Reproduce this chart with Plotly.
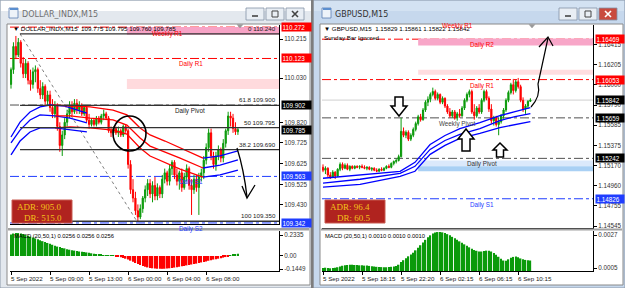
import plotly.graph_objects as go

# ---------------- DATA ----------------
# DOLLAR_INDX M15 (bar index 0..93)
dx_open = [110.00,110.07,110.18,110.14,110.20,110.10,110.05,110.10,110.02,110.00,
           110.06,110.07,109.98,109.95,109.99,109.92,109.95,109.89,109.86,109.90,
           109.80,109.71,109.76,109.82,109.86,109.90,109.87,109.91,109.88,109.90,
           109.86,109.89,109.83,109.81,109.83,109.81,109.84,109.82,109.85,109.86,
           109.84,109.78,109.77,109.79,109.77,109.78,109.76,109.80,109.78,109.62,
           109.50,109.46,109.40,109.37,109.41,109.46,109.50,109.53,109.48,109.52,
           109.47,109.51,109.48,109.55,109.58,109.54,109.60,109.63,109.57,109.54,
           109.58,109.51,109.56,109.60,109.52,109.50,109.55,109.51,109.56,109.58,
           109.64,109.70,109.77,109.66,109.62,109.66,109.69,109.65,109.72,109.78,
           109.85,109.84,109.79,109.775]
dx_high = [110.08,110.20,110.23,110.22,110.21,110.13,110.12,110.11,110.07,110.08,
           110.09,110.08,110.02,110.01,110.00,109.97,109.97,109.93,109.92,109.91,
           109.82,109.78,109.84,109.88,109.92,109.92,109.93,109.93,109.92,109.91,
           109.90,109.90,109.86,109.84,109.84,109.85,109.85,109.86,109.88,109.87,
           109.85,109.80,109.80,109.80,109.80,109.79,109.81,109.81,109.79,109.64,
           109.55,109.49,109.43,109.43,109.47,109.52,109.55,109.55,109.54,109.56,
           109.53,109.52,109.57,109.60,109.59,109.62,109.64,109.64,109.60,109.59,
           109.60,109.58,109.62,109.61,109.55,109.57,109.57,109.58,109.60,109.66,
           109.72,109.79,109.79,109.68,109.68,109.71,109.70,109.74,109.79,109.87,
           109.87,109.86,109.82,109.795]
dx_low = [109.98,110.05,110.12,110.13,110.08,110.03,110.03,110.00,109.97,109.98,
          110.01,109.96,109.93,109.93,109.90,109.90,109.87,109.84,109.84,109.78,
          109.68,109.66,109.74,109.80,109.84,109.85,109.86,109.86,109.86,109.85,
          109.85,109.82,109.79,109.80,109.80,109.80,109.81,109.81,109.83,109.83,
          109.77,109.75,109.75,109.76,109.75,109.75,109.75,109.77,109.60,109.48,
          109.44,109.38,109.35,109.36,109.39,109.44,109.47,109.46,109.44,109.45,
          109.45,109.46,109.46,109.53,109.52,109.52,109.57,109.55,109.52,109.50,
          109.49,109.50,109.54,109.50,109.38,109.48,109.49,109.38,109.54,109.55,
          109.62,109.68,109.64,109.60,109.59,109.64,109.63,109.63,109.70,109.76,
          109.80,109.77,109.76,109.760]
dx_close = [110.07,110.18,110.14,110.20,110.10,110.05,110.10,110.02,110.00,110.06,
            110.07,109.98,109.95,109.99,109.92,109.95,109.89,109.86,109.90,109.80,
            109.71,109.76,109.82,109.86,109.90,109.87,109.91,109.88,109.90,109.86,
            109.89,109.83,109.81,109.83,109.81,109.84,109.82,109.85,109.86,109.84,
            109.78,109.77,109.79,109.77,109.78,109.76,109.80,109.78,109.62,109.50,
            109.46,109.40,109.37,109.41,109.46,109.50,109.53,109.48,109.52,109.47,
            109.51,109.48,109.55,109.58,109.54,109.60,109.63,109.57,109.54,109.58,
            109.51,109.56,109.60,109.52,109.50,109.55,109.51,109.56,109.58,109.64,
            109.70,109.77,109.66,109.62,109.66,109.69,109.65,109.72,109.78,109.85,
            109.84,109.79,109.775,109.785]
dx_macd = [0.240,0.250,0.255,0.255,0.250,0.245,0.235,0.225,0.215,
           0.205,0.195,0.185,0.175,0.165,0.155,0.145,0.135,0.125,0.115,
           0.105,0.100,0.090,0.085,0.075,0.070,0.065,0.060,0.055,0.050,
           0.047,0.044,0.040,0.035,0.030,0.025,0.020,0.017,0.014,0.011,
           0.008,0.005,0.003,0.001,-0.003,-0.008,-0.015,-0.022,-0.030,-0.040,
           -0.052,-0.065,-0.078,-0.090,-0.100,-0.110,-0.120,-0.127,-0.133,-0.137,
           -0.140,-0.142,-0.143,-0.143,-0.142,-0.140,-0.137,-0.133,-0.129,-0.125,
           -0.120,-0.115,-0.110,-0.105,-0.100,-0.095,-0.090,-0.085,-0.078,-0.072,
           -0.066,-0.060,-0.053,-0.047,-0.040,-0.035,-0.030,-0.024,-0.018,-0.012,
           -0.006,0.003,0.012,0.020,0.0256]
# moving-average channel lines: (bar, price)
dx_blue1_up = [(0,109.750),(3.7,109.821),(7.8,109.869),(11.9,109.893),(16.0,109.902),(22.1,109.897),(31.1,109.864)]
dx_blue1_md = [(0,109.722),(3.7,109.783),(7.8,109.831),(11.9,109.855),(18.0,109.850),(24.2,109.840),(31.1,109.817)]
dx_blue1_lo = [(0,109.665),(3.7,109.731),(7.8,109.774),(11.9,109.793),(18.0,109.793),(24.2,109.783),(31.1,109.774)]
dx_red_up = [(17.2,109.902),(24.2,109.897),(32.4,109.893),(41.8,109.878),(47.5,109.855),(52.9,109.793),(57.0,109.760),(63.1,109.731),(69.3,109.698),(78.7,109.650)]
dx_red_md = [(18.0,109.850),(24.2,109.850),(32.4,109.840),(41.8,109.831),(47.5,109.807),(52.9,109.745),(57.0,109.707),(63.1,109.679),(69.3,109.650),(78.7,109.603)]
dx_red_lo = [(18.0,109.793),(24.2,109.798),(32.4,109.793),(41.8,109.783),(47.5,109.764),(52.9,109.698),(57.0,109.660),(63.1,109.631),(69.3,109.598),(78.7,109.560)]
dx_blue2_up = [(78.7,109.650),(85.7,109.660),(93,109.684)]
dx_blue2_md = [(78.7,109.603),(85.7,109.617),(93,109.641)]
dx_blue2_lo = [(78.7,109.560),(85.7,109.570),(93,109.593)]

dx_weekly_r1 = 110.272
dx_daily_r1 = 110.123
dx_daily_pivot = 109.902
dx_daily_s1 = 109.563
dx_daily_s2 = 109.342
dx_last = 109.785
dx_zone_top = [110.236, 109.978]
dx_zone_bot = [110.272, 110.025]
dx_zone_start = 47.5
dx_fib_pct = ["0", "61.8", "50", "38.2", "100"]
dx_fib_val = [110.240, 109.900, 109.795, 109.690, 109.350]
dx_fib_start = 3.7
dx_fib_trend = [(3.7, 110.240), (51.6, 109.350)]
dx_price_ticks = [110.215, 110.030, 109.820, 109.725, 109.625, 109.525, 109.430]
dx_macd_ticks = [0.2335, 0.0, -0.1449]
dx_macd_ticktext = ["0.2335", "0.00", "-0.1449"]
dx_time_idx = [0, 16, 32, 48, 64, 80]
dx_time_lbl = ["5 Sep 2022", "5 Sep 09:00", "5 Sep 13:00", "6 Sep 00:00", "6 Sep 04:00", "6 Sep 08:00"]

# GBPUSD M15 (bar index 0..85)
gb_open = [1.1515,1.1512,1.1514,1.1507,1.1505,1.1510,1.1506,1.1513,1.1518,1.1514,
           1.1517,1.1513,1.1516,1.1514,1.1516,1.1515,1.1516,1.1515,1.1514,1.1515,
           1.1513,1.1514,1.1512,1.1511,1.1513,1.1512,1.1514,1.1516,1.1515,1.1519,
           1.1521,1.1522,1.1526,1.1552,1.1548,1.1551,1.1544,1.1548,1.1554,1.1560,
           1.1567,1.1564,1.1574,1.1582,1.1585,1.1590,1.1593,1.1586,1.1590,1.1582,
           1.1586,1.1578,1.1572,1.1568,1.1572,1.1566,1.1570,1.1568,1.1576,1.1584,
           1.1590,1.1593,1.1572,1.1568,1.1576,1.1572,1.1584,1.1593,1.1586,1.1575,
           1.1563,1.1566,1.1559,1.1562,1.1568,1.1574,1.1584,1.1592,1.1600,1.1594,
           1.1603,1.1598,1.1584,1.1575,1.1578,1.15829]
gb_high = [1.1518,1.1516,1.1515,1.1510,1.1512,1.1511,1.1514,1.1520,1.1520,1.1519,
           1.1519,1.1517,1.1517,1.1517,1.1517,1.1517,1.1518,1.1517,1.1516,1.1516,
           1.1515,1.1515,1.1514,1.1514,1.1515,1.1515,1.1517,1.1518,1.1520,1.1522,
           1.1524,1.1528,1.1566,1.1556,1.1553,1.1553,1.1550,1.1556,1.1562,1.1569,
           1.1570,1.1576,1.1584,1.1588,1.1592,1.1597,1.1595,1.1592,1.1591,1.1588,
           1.1587,1.1580,1.1576,1.1574,1.1574,1.1572,1.1575,1.1578,1.1586,1.1592,
           1.1595,1.1595,1.1580,1.1578,1.1580,1.1586,1.1595,1.1595,1.1588,1.1580,
           1.1568,1.1568,1.1566,1.1570,1.1576,1.1586,1.1594,1.1602,1.1606,1.1605,
           1.1607,1.1600,1.1587,1.1580,1.1584,1.15861]
gb_low = [1.1510,1.1508,1.1505,1.1503,1.1504,1.1503,1.1505,1.1511,1.1512,1.1513,
          1.1512,1.1511,1.1513,1.1513,1.1514,1.1513,1.1514,1.1513,1.1512,1.1512,
          1.1511,1.1511,1.1510,1.1510,1.1511,1.1511,1.1513,1.1514,1.1514,1.1517,
          1.1519,1.1521,1.1525,1.1546,1.1545,1.1542,1.1542,1.1546,1.1552,1.1558,
          1.1562,1.1563,1.1572,1.1578,1.1582,1.1588,1.1584,1.1584,1.1580,1.1580,
          1.1576,1.1570,1.1566,1.1566,1.1564,1.1563,1.1566,1.1567,1.1574,1.1582,
          1.1587,1.1570,1.1564,1.1566,1.1570,1.1570,1.1582,1.1584,1.1572,1.1560,
          1.1558,1.1557,1.1548,1.1560,1.1565,1.1572,1.1582,1.1590,1.1590,1.1592,
          1.1596,1.1582,1.1572,1.1570,1.1575,1.15822]
gb_close = [1.1512,1.1514,1.1507,1.1505,1.1510,1.1506,1.1513,1.1518,1.1514,1.1517,
            1.1513,1.1516,1.1514,1.1516,1.1515,1.1516,1.1515,1.1514,1.1515,1.1513,
            1.1514,1.1512,1.1511,1.1513,1.1512,1.1514,1.1516,1.1515,1.1519,1.1521,
            1.1522,1.1526,1.1552,1.1548,1.1551,1.1544,1.1548,1.1554,1.1560,1.1567,
            1.1564,1.1574,1.1582,1.1585,1.1590,1.1593,1.1586,1.1590,1.1582,1.1586,
            1.1578,1.1572,1.1568,1.1572,1.1566,1.1570,1.1568,1.1576,1.1584,1.1590,
            1.1593,1.1572,1.1568,1.1576,1.1572,1.1584,1.1593,1.1586,1.1575,1.1563,
            1.1566,1.1559,1.1562,1.1568,1.1574,1.1584,1.1592,1.1600,1.1594,1.1603,
            1.1598,1.1584,1.1575,1.1578,1.1583,1.15842]
gb_macd = [0.00050,0.00052,0.00050,0.00048,0.00050,0.00052,0.00055,0.00060,
           0.00065,0.00068,0.00070,0.00072,0.00072,0.00070,0.00070,0.00068,0.00068,0.00066,0.00066,0.00064,
           0.00062,0.00060,0.00058,0.00056,0.00056,0.00055,0.00055,0.00056,0.00058,0.00060,0.00064,
           0.00072,0.00090,0.00102,0.00115,0.00128,0.00140,0.00152,0.00168,0.00185,0.00202,
           0.00220,0.00238,0.00255,0.00268,0.00280,0.00287,0.00290,0.00290,0.00288,0.00283,
           0.00276,0.00268,0.00258,0.00248,0.00238,0.00228,0.00218,0.00208,0.00198,0.00188,
           0.00178,0.00170,0.00165,0.00160,0.00160,0.00163,0.00166,0.00166,0.00160,0.00150,
           0.00138,0.00125,0.00112,0.00100,0.00098,0.00108,0.00118,0.00124,0.00126,0.00122,
           0.00114,0.00108,0.00104,0.00101,0.00100]
gb_ma_up = [(0,1.15037),(15.2,1.15068),(31.6,1.15109),(37.7,1.15201),(43.9,1.15385),(50.0,1.15477),(56.1,1.15549),(64.3,1.15611),(72.5,1.15682),(78.7,1.15723),(85,1.15764)]
gb_ma_md = [(0,1.14986),(15.2,1.15027),(31.6,1.15088),(37.7,1.15160),(43.9,1.15334),(50.0,1.15426),(56.1,1.15488),(64.3,1.15549),(72.5,1.15631),(78.7,1.15672),(85,1.15703)]
gb_ma_lo = [(0,1.14945),(15.2,1.14975),(31.6,1.15057),(37.7,1.15109),(43.9,1.15283),(50.0,1.15375),(56.1,1.15447),(64.3,1.15498),(72.5,1.15559),(78.7,1.15590),(85,1.15621)]

gb_daily_r2 = 1.16469
gb_daily_r1 = 1.16053
gb_weekly_pivot = 1.15659
gb_daily_pivot = 1.15242
gb_daily_s1 = 1.14826
gb_last = 1.15842
gb_zone_start = 39
gb_zone_lo = [1.16405, 1.16103, 1.15160, 1.15109]
gb_zone_hi = [1.16475, 1.16154, 1.15221, 1.15160]
gb_price_ticks = [1.16415, 1.16205, 1.16000, 1.15790, 1.15585, 1.15375, 1.15170, 1.14960, 1.14755, 1.14545]
gb_macd_ticks = [0.0027, 0.0005]
gb_time_idx = [0, 16, 32, 48, 64, 80]
gb_time_lbl = ["5 Sep 2022", "5 Sep 18:15", "5 Sep 22:20", "6 Sep 02:15", "6 Sep 06:15", "6 Sep 10:15"]

# ---------------- STYLE / LAYOUT ----------------
W, H = 625, 288
FONT = "Liberation Sans"
GREEN = "#0a9a0a"
RED = "#ff0000"
BLUE = "#0000ff"
LBLUE = "#1f3dff"


def PX(x):
    return x / W


def PY(y):
    return 1 - y / H


shapes = []
ann = []


def rect(x0, y0, x1, y1, fill, line=None, lw=0, layer="below"):
    shapes.append(dict(type="rect", xref="paper", yref="paper", x0=PX(x0), x1=PX(x1),
                       y0=PY(y1), y1=PY(y0), fillcolor=fill,
                       line=dict(color=line or fill, width=lw), layer=layer))


def svgpath(seq):
    out = []
    pend = None
    for t in (t for c in seq for t in c):
        if isinstance(t, str):
            out.append(t)
        elif pend is None:
            pend = t
        else:
            out.append("%.5f,%.5f" % (PX(pend), PY(t)))
            pend = None
    return " ".join(out)


def pathshape(seq, color="#000", width=1.4, fill=None, layer="above"):
    d = dict(type="path", xref="paper", yref="paper", path=svgpath(seq),
             line=dict(color=color, width=width), layer=layer)
    if fill:
        d["fillcolor"] = fill
    shapes.append(d)


def note(text, x, y, xref="paper", yref="paper", size=6.3, color="#000",
         xanchor="left", yanchor="middle", family=FONT, **kw):
    if xref == "paper":
        x = PX(x)
    if yref == "paper":
        y = PY(y)
    ann.append(dict(text=text, x=x, y=y, xref=xref, yref=yref, showarrow=False,
                    xanchor=xanchor, yanchor=yanchor,
                    font=dict(size=size, color=color, family=family), **kw))


def hline(xref, yref, x0, x1, y, color, dash="solid", width=1, layer="below"):
    shapes.append(dict(type="line", xref=xref, yref=yref, x0=x0, x1=x1, y0=y, y1=y,
                       line=dict(color=color, width=width, dash=dash), layer=layer))


def zone(xref, yref, x0, x1, y0, y1, fill):
    shapes.append(dict(type="rect", xref=xref, yref=yref, x0=x0, x1=x1, y0=y0, y1=y1,
                       fillcolor=fill, line=dict(width=0), layer="below"))


# ---- window chrome ----
for (wx0, wx1, title, tx, active, fr) in [(0, 312, "DOLLAR_INDX,M15", 20, False, "#e3e8ee"),
                                          (313, 625, "GBPUSD,M15", 333, True, "#c6d8ed")]:
    rect(wx0, 0, wx1, 288, fr, "#8e9aaa", 1)
    rect(wx0 + 1, 1, wx1 - 1, 11, "#ffffff" if not active else "#d3e2f2", layer="below")
    rect(wx0 + 1, 11, wx1 - 1, 24, fr)
    note(title, tx, 14, size=8, color="#333333" if active else "#707070", family="DejaVu Sans")
    ix = wx0 + 9
    rect(ix, 8, ix + 9, 18, "#eef3f9", "#5b7fb2", 0.8, layer="above")
    rect(ix + 1, 8, ix + 9, 10, "#5b8fd0", layer="above")
    bx = wx1 - 66
    for k in range(3):
        x0 = bx + k * 20
        fill = "#c94a3e" if (active and k == 2) else "#e9eef4"
        rect(x0, 8, x0 + 18, 20, fill, "#8492a6", 0.8, layer="above")
    pathshape([("M", bx + 6, 16, "L", bx + 12, 16)], "#444", 1.6)
    pathshape([("M", bx + 26, 11, "L", bx + 32, 11, "L", bx + 32, 17, "L", bx + 26, 17, "Z")], "#444", 1)
    xc = bx + 49
    col = "#ffffff" if active else "#444"
    pathshape([("M", xc - 3, 11, "L", xc + 3, 17), ("M", xc + 3, 11, "L", xc - 3, 17)], col, 1.6)

# divider between windows
rect(311, 0, 313.5, 288, "#7d7d7d")
# chart client areas
rect(7, 24, 310, 285, "#ffffff", "#8a8a8a", 1)
rect(320, 24, 623, 285, "#ffffff", "#8a8a8a", 1)
# sub-window separators
rect(8, 228, 309, 230.5, "#a2a2a2", layer="above")
rect(321, 228.5, 622, 230.5, "#a2a2a2", layer="above")

fig = go.Figure()


def line_trace(pts, color, xa, ya, width=1.3):
    fig.add_trace(go.Scatter(x=[p[0] for p in pts], y=[p[1] for p in pts], mode="lines",
                             line=dict(color=color, width=width), xaxis=xa, yaxis=ya,
                             hoverinfo="skip", showlegend=False))


# ---- left: DOLLAR_INDX ----
dx_x = list(range(len(dx_close)))
for (zt, zb, fc) in zip(dx_zone_top, dx_zone_bot, ["#f7a3c6", "#ffdadd"]):
    zone("x", "y", dx_zone_start, 109.84, zt, zb, fc)
hline("x domain", "y", 0, 1, dx_weekly_r1, RED, "dashdot")
hline("x domain", "y", 0, 1, dx_daily_r1, RED, "dashdot")
hline("x domain", "y", 0, 1, dx_daily_pivot, "#505050", "dashdot")
hline("x domain", "y", 0, 1, dx_daily_s1, LBLUE, "dashdot")
hline("x domain", "y", 0, 1, dx_daily_s2, LBLUE, "dashdot")
for v in dx_fib_val:
    hline("x", "y", dx_fib_start, 109.84, v, "#333333", "solid", 1.3, layer="above")
shapes.append(dict(type="line", xref="x", yref="y", x0=dx_fib_trend[0][0], y0=dx_fib_trend[0][1],
                   x1=dx_fib_trend[1][0], y1=dx_fib_trend[1][1],
                   line=dict(color="#808080", width=1, dash="dot"), layer="below"))

fig.add_trace(go.Candlestick(x=dx_x, open=dx_open, high=dx_high, low=dx_low, close=dx_close,
                             xaxis="x", yaxis="y", hoverinfo="skip", showlegend=False,
                             increasing=dict(line=dict(color=GREEN, width=1), fillcolor=GREEN),
                             decreasing=dict(line=dict(color=RED, width=1), fillcolor=RED)))
for pts in (dx_blue1_up, dx_blue1_md, dx_blue1_lo, dx_blue2_up, dx_blue2_md, dx_blue2_lo):
    line_trace(pts, BLUE, "x", "y")
for pts in (dx_red_up, dx_red_md, dx_red_lo):
    line_trace(pts, RED, "x", "y")
fig.add_trace(go.Bar(x=dx_x, y=dx_macd, marker=dict(color=[GREEN if v >= 0 else RED for v in dx_macd], line=dict(width=0)),
                     width=0.62, xaxis="x2", yaxis="y2", hoverinfo="skip", showlegend=False))

# ---- right: GBPUSD ----
gb_x = list(range(len(gb_close)))
for (lo, hi, fc) in zip(gb_zone_lo, gb_zone_hi, ["#f8a6c8", "#ffdde0", "#dbe9fb", "#a9d0f4"]):
    zone("x3", "y3", gb_zone_start, 110.66, lo, hi, fc)
hline("x3 domain", "y3", 0, 1, gb_last, "#cfcfcf", "solid")
hline("x3 domain", "y3", 0, 1, gb_daily_r2, RED, "dashdot")
hline("x3 domain", "y3", 0, 1, gb_daily_r1, RED, "dashdot")
hline("x3 domain", "y3", 0, 1, gb_weekly_pivot, "#505050", "dashdot")
hline("x3 domain", "y3", 0, 1, gb_daily_pivot, "#505050", "dashdot")
hline("x3 domain", "y3", 0, 1, gb_daily_s1, LBLUE, "dashdot")

fig.add_trace(go.Candlestick(x=gb_x, open=gb_open, high=gb_high, low=gb_low, close=gb_close,
                             xaxis="x3", yaxis="y3", hoverinfo="skip", showlegend=False,
                             increasing=dict(line=dict(color=GREEN, width=1), fillcolor=GREEN),
                             decreasing=dict(line=dict(color=RED, width=1), fillcolor=RED)))
for pts in (gb_ma_up, gb_ma_md, gb_ma_lo):
    line_trace(pts, BLUE, "x3", "y3")
fig.add_trace(go.Bar(x=gb_x, y=gb_macd, marker=dict(color=GREEN, line=dict(width=0)),
                     width=0.62, xaxis="x4", yaxis="y4", hoverinfo="skip", showlegend=False))

# ---- texts on charts ----
note("▼ DOLLAR_INDX,M15  109.775 109.795 109.760 109.785", 11, 29, size=6.2)
note("▼ GBPUSD,M15  1.15829 1.15861 1.15822 1.15842", 322, 28.5, size=6.2)
note("Sunday Bar Ignored", 322, 37, size=6.2)
note("MACD (20,50,1) 0.0256 0.0256 0.0256", 12, 236, size=5.8)
note("MACD (20,50,1) 0.0010 0.0010 0.0010", 323, 236, size=5.8)

note("Weekly R1", 57, dx_weekly_r1, xref="x", yref="y", color=RED, yanchor="top", yshift=-1)
note("Daily R1", 68, dx_daily_r1, xref="x", yref="y", color=RED, yanchor="top")
note("Daily Pivot", 66.4, dx_daily_pivot, xref="x", yref="y", color="#222", yanchor="top")
note("Daily S1", 68, dx_daily_s1, xref="x", yref="y", color=LBLUE, yanchor="top")
note("Daily S2", 68, dx_daily_s2, xref="x", yref="y", color=LBLUE, yanchor="top")
for p, v in zip(dx_fib_pct, dx_fib_val):
    note("%s %.3f" % (p, v), 109.3, v, xref="x", yref="y", xanchor="right", yanchor="bottom", size=6.2, color="#222")

note("Weekly R1", 48, 1.16600, xref="x3", yref="y3", color=RED)
note("Daily R2", 59.4, gb_daily_r2, xref="x3", yref="y3", color=RED, yanchor="top")
note("Daily R1", 59.4, gb_daily_r1, xref="x3", yref="y3", color=RED, yanchor="top")
note("Weekly Pivot", 46.7, gb_weekly_pivot, xref="x3", yref="y3", color="#444", yanchor="top")
note("Daily Pivot", 58.2, gb_daily_pivot, xref="x3", yref="y3", color="#333", yanchor="top")
note("Daily S1", 59.4, gb_daily_s1, xref="x3", yref="y3", color=LBLUE, yanchor="top")

# colored price labels on the axes
for v, bg in [(dx_weekly_r1, RED), (dx_daily_r1, RED), (dx_daily_pivot, "#000"),
              (dx_last, "#000"), (dx_daily_s1, LBLUE), (dx_daily_s2, LBLUE)]:
    note("%.3f" % v, 280.5, v, yref="y", color="#fff", bgcolor=bg, width=28, align="left",
         borderpad=0.5, size=6.3)
for v, bg in [(gb_daily_r2, RED), (gb_daily_r1, RED), (gb_last, "#000"), (gb_weekly_pivot, "#000"),
              (gb_daily_pivot, "#000"), (gb_daily_s1, LBLUE)]:
    note("%.5f" % v, 594.5, v, yref="y3", color="#fff", bgcolor=bg, width=27, align="left",
         borderpad=0.5, size=6.3)

# time labels (under the MACD panels)
for i, s in zip(dx_time_idx, dx_time_lbl):
    note(s, i, 278, xref="x2", yref="paper", xshift=-2, size=6.2, color="#222")
for i, s in zip(gb_time_idx, gb_time_lbl):
    note(s, i, 278, xref="x4", yref="paper", xshift=-2, size=6.2, color="#222")

# ADR boxes
for (x0, t1, t2) in [(12, "ADR: 905.0", "DR: 515.0"), (325, "ADR: 96.4", "DR: 60.5")]:
    rect(x0, 200, x0 + 60, 223, "#b0231f", "#c85a50", 1, layer="above")
    note(t1, x0 + 3, 207, size=9, color="#f4c21a", family="Liberation Serif")
    note(t2, x0 + 10, 217.5, size=9, color="#f4c21a", family="Liberation Serif")

# hand drawings
shapes.append(dict(type="circle", xref="paper", yref="paper", x0=PX(113), x1=PX(146),
                   y0=PY(151), y1=PY(116), line=dict(color="#000", width=1.6), layer="above"))
pathshape([("M", 237, 148, "Q", 244, 170, 247, 197)], "#000", 1.3)
pathshape([("M", 242, 186, "L", 247, 198, "L", 255, 185)], "#000", 1.3)
pathshape([("M", 395, 97, "L", 403, 97, "L", 403, 106, "L", 407, 106, "L", 399, 116, "L", 391, 106, "L", 395, 106), ("Z",)],
          "#000", 1.5, fill="#ffffff")
pathshape([("M", 466, 129, "L", 474, 139, "L", 470, 139, "L", 470, 151, "L", 462, 151, "L", 462, 139, "L", 458, 139), ("Z",)],
          "#000", 1.5, fill="#ffffff")
pathshape([("M", 500, 143, "L", 507, 150, "L", 503.5, 150, "L", 503.5, 157, "L", 496.5, 157, "L", 496.5, 150, "L", 493, 150), ("Z",)],
          "#000", 1.5, fill="#ffffff")
pathshape([("M", 531, 107, "Q", 541, 96, 538, 84, "L", 548, 38)], "#000", 1.2)
pathshape([("M", 539, 47, "L", 548, 37, "L", 553, 46)], "#000", 1.2)
# chart-shift markers
pathshape([("M", 237, 24.5, "L", 243, 24.5, "L", 240, 28), ("Z",)], "#9a9a9a", 0.5, fill="#9a9a9a")
pathshape([("M", 529, 24.5, "L", 535, 24.5, "L", 532, 28), ("Z",)], "#9a9a9a", 0.5, fill="#9a9a9a")

axfont = dict(family=FONT, size=6.3, color="#333")


def xax(dom, rng, anchor, ticks=None):
    d = dict(domain=dom, range=rng, anchor=anchor, showgrid=False, zeroline=False,
             showticklabels=False, showline=True, linecolor="#000", linewidth=1,
             rangeslider=dict(visible=False), fixedrange=True)
    if ticks is not None:
        d.update(tickmode="array", tickvals=ticks, ticks="outside", ticklen=3, tickcolor="#000")
    else:
        d.update(ticks="")
    return d


def yax(dom, rng, anchor, vals, text):
    return dict(domain=dom, range=rng, anchor=anchor, side="right", showgrid=False, zeroline=False,
                showline=True, linecolor="#000", linewidth=1, tickmode="array", tickvals=vals,
                ticktext=text, ticks="outside", ticklen=3, tickcolor="#000", tickfont=axfont,
                fixedrange=True)


dxL = [PX(10), PX(279)]
gbL = [PX(322), PX(593)]
fig.update_layout(
    width=W, height=H, margin=dict(l=0, r=0, t=0, b=0),
    paper_bgcolor="#d5e0ec", plot_bgcolor="#ffffff", showlegend=False,
    bargap=0.3,
    xaxis=xax(dxL, [-0.41, 109.84], "y"),
    yaxis=yax([PY(224), PY(25)], [109.337, 110.282], "x", dx_price_ticks, ["%.3f" % v for v in dx_price_ticks]),
    xaxis2=xax(dxL, [-0.41, 109.84], "y2", dx_time_idx),
    yaxis2=yax([PY(271), PY(231)], [-0.167, 0.278], "x2", dx_macd_ticks, dx_macd_ticktext),
    xaxis3=xax(gbL, [-0.41, 110.66], "y3"),
    yaxis3=yax([PY(228), PY(25)], [1.14525, 1.16615], "x3", gb_price_ticks, ["%.5f" % v for v in gb_price_ticks]),
    xaxis4=xax(gbL, [-0.41, 110.66], "y4", gb_time_idx),
    yaxis4=yax([PY(271), PY(231)], [0.0003, 0.00297], "x4", gb_macd_ticks, ["%.4f" % v for v in gb_macd_ticks]),
    shapes=shapes, annotations=ann,
)

fig.write_html("out.html")
